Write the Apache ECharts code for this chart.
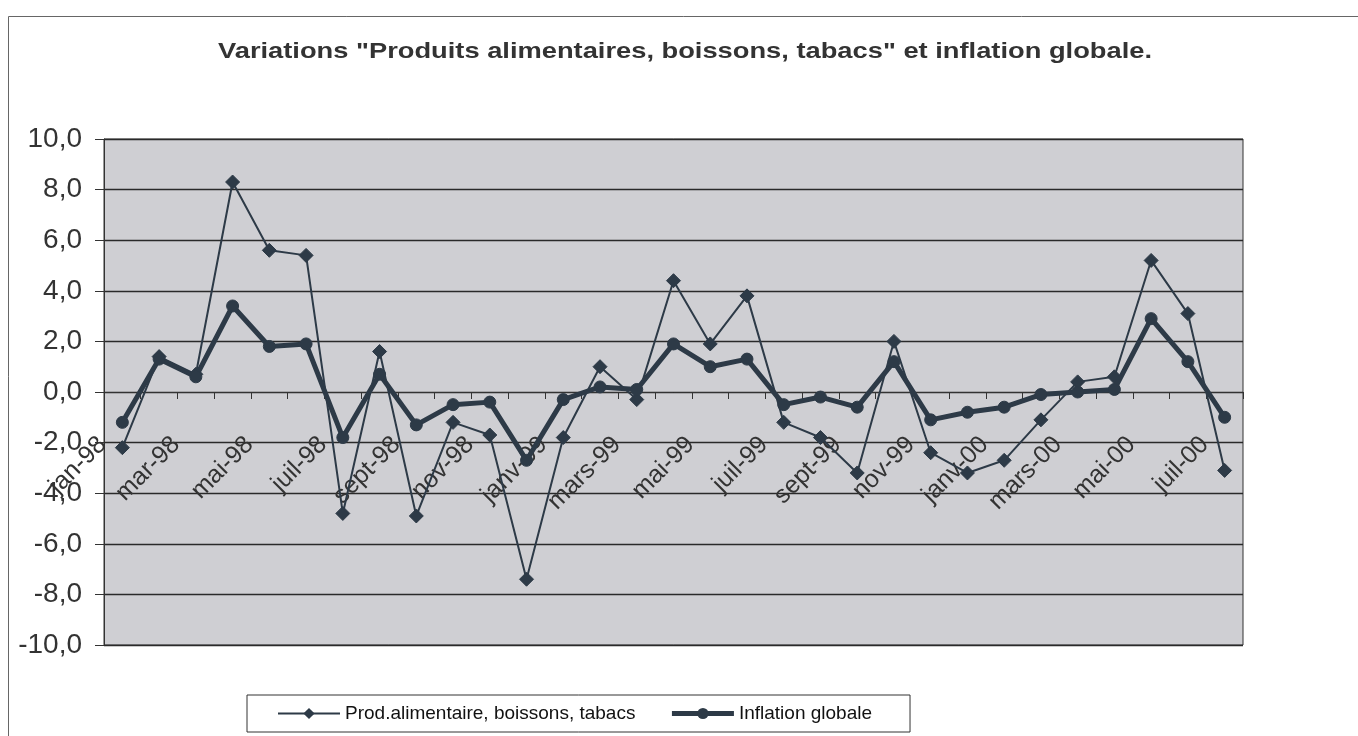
<!DOCTYPE html>
<html>
<head>
<meta charset="utf-8">
<script src="https://cdn.jsdelivr.net/npm/echarts@6/dist/echarts.min.js"></script>
<style>
html,body{margin:0;padding:0;background:#fff;}
#chart{width:1358px;height:736px;}
</style>
</head>
<body>
<div id="chart"></div>
<script>
const categories = ['jan-98','févr-98','mar-98','avr-98','mai-98','juin-98','juil-98','août-98','sept-98','oct-98','nov-98','déc-98',
  'janv-99','févr-99','mars-99','avr-99','mai-99','juin-99','juil-99','août-99','sept-99','oct-99','nov-99','déc-99',
  'janv-00','févr-00','mars-00','avr-00','mai-00','juin-00','juil-00'];
const foodValues = [-2.2, 1.4, 0.7, 8.3, 5.6, 5.4, -4.8, 1.6, -4.9, -1.2, -1.7, -7.4,
  -1.8, 1.0, -0.3, 4.4, 1.9, 3.8, -1.2, -1.8, -3.2, 2.0, -2.4, -3.2,
  -2.7, -1.1, 0.4, 0.6, 5.2, 3.1, -3.1];
const inflationValues = [-1.2, 1.3, 0.6, 3.4, 1.8, 1.9, -1.8, 0.7, -1.3, -0.5, -0.4, -2.7,
  -0.3, 0.2, 0.1, 1.9, 1.0, 1.3, -0.5, -0.2, -0.6, 1.2, -1.1, -0.8,
  -0.6, -0.1, 0.0, 0.1, 2.9, 1.2, -1.0];
const seriesNames = ['Prod.alimentaire, boissons, tabacs', 'Inflation globale'];
const titleText = 'Variations "Produits alimentaires, boissons, tabacs" et inflation globale.';
const yMin = -10, yMax = 10, yStep = 2;

const FONT = '"Liberation Sans", Arial, sans-serif';
const INK = '#2d3a47';
const GRID_TOP = 139, GRID_BOTTOM_PX = 645, H = 736;
// pixel position of value 0 on the y axis, for the label axis offset
const zeroY = GRID_TOP + (GRID_BOTTOM_PX - GRID_TOP) * (yMax - 0) / (yMax - yMin);

const chart = echarts.init(document.getElementById('chart'), null, {renderer: 'canvas'});
chart.setOption({
  backgroundColor: '#ffffff',
  animation: false,
  graphic: [
    {
      type: 'rect', z: -1, silent: true,
      shape: {x: 8.5, y: 16.5, width: 1400, height: 760},
      style: {fill: 'none', stroke: '#666', lineWidth: 1}
    },
    {
      type: 'text', x: 685, y: 52, scaleX: 1.24, scaleY: 1,
      style: {
        text: titleText, font: 'bold 22px ' + FONT, fill: '#333',
        align: 'center', verticalAlign: 'middle'
      }
    }
  ],
  grid: {
    left: 104, right: 115, top: GRID_TOP, bottom: H - GRID_BOTTOM_PX,
    outerBoundsMode: 'none', containLabel: false,
    show: true, backgroundColor: '#cfcfd3', borderColor: '#333', borderWidth: 1
  },
  legend: {
    left: 247, top: 695,
    padding: [9, 38, 9, 30],
    backgroundColor: '#fff', borderColor: '#333', borderWidth: 1, borderRadius: 0,
    itemWidth: 62, itemHeight: 14, itemGap: 34,
    textStyle: {fontFamily: FONT, fontSize: 19, color: '#111'},
    data: [
      {name: seriesNames[0]},
      {name: seriesNames[1], lineStyle: {width: 5}}
    ]
  },
  xAxis: [
    {
      type: 'category', data: categories, boundaryGap: true,
      axisLine: {show: true, onZero: true, lineStyle: {color: '#333', width: 1}},
      axisTick: {show: true, interval: 0, length: 7, lineStyle: {color: '#333'}},
      axisLabel: {show: false},
      splitLine: {show: false}
    },
    {
      type: 'category', data: categories, boundaryGap: true, position: 'bottom',
      offset: zeroY - GRID_BOTTOM_PX,
      axisLine: {show: false, onZero: false},
      axisTick: {show: false},
      axisLabel: {
        interval: 1, rotate: 45, margin: 29, padding: [0, 28, 0, 0],
        fontFamily: FONT, fontSize: 25, color: '#333'
      },
      splitLine: {show: false}
    }
  ],
  yAxis: {
    type: 'value', min: yMin, max: yMax, interval: yStep,
    axisLine: {show: true, lineStyle: {color: '#333', width: 1}},
    axisTick: {show: true, length: 9, lineStyle: {color: '#333'}},
    axisLabel: {
      margin: 22, fontFamily: FONT, fontSize: 28, color: '#333',
      formatter: v => v.toFixed(1).replace('.', ',')
    },
    splitLine: {show: true, lineStyle: {color: '#2a2a2a', width: 1.3}}
  },
  series: [
    {
      name: seriesNames[0], type: 'line', data: foodValues, xAxisIndex: 0,
      symbol: 'diamond', symbolSize: 14,
      lineStyle: {color: INK, width: 2},
      itemStyle: {color: INK, borderColor: INK},
      z: 3
    },
    {
      name: seriesNames[1], type: 'line', data: inflationValues, xAxisIndex: 0,
      symbol: 'circle', symbolSize: 12,
      lineStyle: {color: INK, width: 5},
      itemStyle: {color: INK, borderColor: INK},
      z: 4
    }
  ]
});
</script>
</body>
</html>
